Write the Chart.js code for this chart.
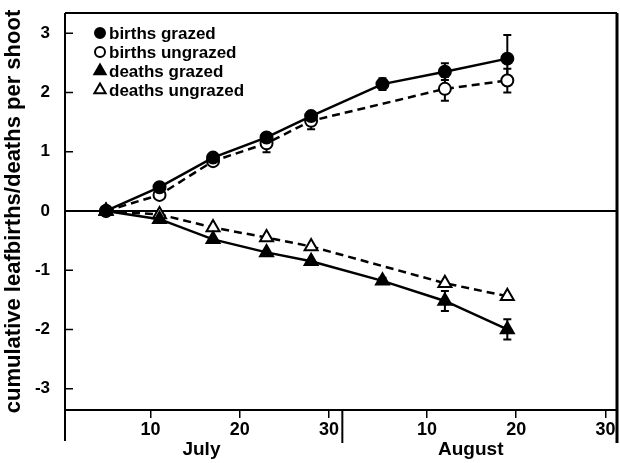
<!DOCTYPE html>
<html>
<head>
<meta charset="utf-8">
<script src="https://cdn.jsdelivr.net/npm/chart.js@4.4.1/dist/chart.umd.min.js"></script>
<style>
  html, body { margin: 0; padding: 0; background: #fff; }
</style>
</head>
<body>
<canvas id="chart" width="620" height="463"></canvas>
<script>
// day number counted from 1 July (1 Aug = day 32)
const days = [5, 11, 17, 23, 28, 36, 43, 50];

const birthsGrazed   = [0, 0.40, 0.90, 1.24, 1.60, 2.14, 2.35, 2.57];
const birthsUngrazed = [0, 0.27, 0.84, 1.14, 1.52, null, 2.06, 2.20];
const deathsGrazed   = [0, -0.14, -0.48, -0.70, -0.85, -1.18, -1.52, -2.00];
const deathsUngrazed = [0, -0.06, -0.28, -0.45, -0.60, null, -1.22, -1.44];

const birthsGrazedErr   = [0, 0, 0, 0, 0.05, 0.10, 0.14, 0.40];
const birthsUngrazedErr = [0, 0, 0, 0.15, 0.14, null, 0.20, 0.20];
const deathsGrazedErr   = [0, 0, 0, 0, 0, 0.05, 0.17, 0.17];
const deathsUngrazedErr = [0, 0, 0, 0, 0, null, 0, 0];

const xTickDays   = [10, 20, 30, 41, 51, 61];
const xTickLabels = ["10", "20", "30", "10", "20", "30"];
const yTicks      = [-3, -2, -1, 0, 1, 2, 3];
const months      = ["July", "August"];
const monthCenters = [15.7, 45.9];
const monthBreak  = 31.5;

const seriesNames = ["births grazed", "births ungrazed", "deaths grazed", "deaths ungrazed"];
const errors = [birthsGrazedErr, birthsUngrazedErr, deathsGrazedErr, deathsUngrazedErr];

const FONT = "'Liberation Sans', Arial, sans-serif";

const toPoints = arr => days.map((d, i) => ({ x: d, y: arr[i] }));

function marker(ctx, style, filled, px, py, r) {
  ctx.beginPath();
  if (style === "circle") {
    ctx.arc(px, py, r, 0, Math.PI * 2);
  } else {
    const s = r * Math.sqrt(3) / 2;
    ctx.moveTo(px, py - r);
    ctx.lineTo(px + s, py + r / 2);
    ctx.lineTo(px - s, py + r / 2);
    ctx.closePath();
  }
  ctx.fillStyle = filled ? "#000" : "#fff";
  ctx.fill();
  ctx.lineWidth = 2;
  ctx.strokeStyle = "#000";
  ctx.stroke();
}

const extras = {
  id: "extras",
  beforeDatasetsDraw(chart) {
    const { ctx, scales: { x, y } } = chart;
    ctx.save();
    ctx.strokeStyle = "#000";
    ctx.lineWidth = 2;
    chart.data.datasets.forEach((ds, i) => {
      ds.data.forEach((p, j) => {
        const e = errors[i][j];
        if (p.y == null || !e) return;
        const px = x.getPixelForValue(p.x);
        const top = y.getPixelForValue(p.y + e);
        const bot = y.getPixelForValue(p.y - e);
        ctx.beginPath();
        ctx.moveTo(px, top); ctx.lineTo(px, bot);
        ctx.moveTo(px - 4, top); ctx.lineTo(px + 4, top);
        ctx.moveTo(px - 4, bot); ctx.lineTo(px + 4, bot);
        ctx.stroke();
      });
    });
    ctx.restore();
  },
  afterDraw(chart) {
    const { ctx, chartArea: a, scales: { x, y } } = chart;
    ctx.save();
    ctx.strokeStyle = "#000";
    ctx.lineCap = "butt";

    // frame
    ctx.lineWidth = 2;
    ctx.beginPath();
    ctx.moveTo(a.left, a.top); ctx.lineTo(a.right, a.top);
    ctx.moveTo(a.left, a.bottom); ctx.lineTo(a.right, a.bottom);
    ctx.moveTo(a.left, a.top); ctx.lineTo(a.left, a.bottom + 31);
    ctx.stroke();
    ctx.lineWidth = 3;
    ctx.beginPath();
    ctx.moveTo(a.right, a.top); ctx.lineTo(a.right, a.bottom + 33);
    ctx.stroke();

    // month separator
    const mx = x.getPixelForValue(monthBreak);
    ctx.lineWidth = 2;
    ctx.beginPath();
    ctx.moveTo(mx, a.bottom); ctx.lineTo(mx, a.bottom + 33);
    ctx.stroke();

    // inward y ticks
    ctx.lineWidth = 1.5;
    ctx.beginPath();
    yTicks.forEach(v => {
      const py = y.getPixelForValue(v);
      ctx.moveTo(a.left, py); ctx.lineTo(a.left + 8, py);
    });
    ctx.stroke();

    // month labels
    ctx.fillStyle = "#000";
    ctx.font = "bold 19px " + FONT;
    ctx.textAlign = "center";
    ctx.textBaseline = "middle";
    months.forEach((m, i) => {
      ctx.fillText(m, x.getPixelForValue(monthCenters[i]), a.bottom + 40);
    });

    // legend
    ctx.font = "bold 17px " + FONT;
    ctx.textAlign = "left";
    chart.data.datasets.forEach((ds, i) => {
      const ly = a.top + 20 + i * 19;
      const lx = a.left + 35;
      marker(ctx, ds.pointStyle, ds.pointBackgroundColor === "#000", lx, ly, ds.pointStyle === "circle" ? 5 : 6.5);
      ctx.fillStyle = "#000";
      ctx.fillText(seriesNames[i], lx + 9, ly + 1);
    });
    ctx.restore();
  }
};

const makeSet = (i, arr, dashed, filled, style) => ({
  label: seriesNames[i],
  data: toPoints(arr),
  borderColor: "#000",
  borderWidth: 2.5,
  borderDash: dashed ? [8, 5] : [],
  pointStyle: style,
  pointRadius: style === "circle" ? 6 : 7.5,
  pointBorderWidth: 2,
  pointBorderColor: "#000",
  pointBackgroundColor: filled ? "#000" : "#fff",
  spanGaps: true,
  tension: 0
});

new Chart(document.getElementById("chart"), {
  type: "line",
  data: {
    datasets: [
      makeSet(0, birthsGrazed, false, true, "circle"),
      makeSet(1, birthsUngrazed, true, false, "circle"),
      makeSet(2, deathsGrazed, false, true, "triangle"),
      makeSet(3, deathsUngrazed, true, false, "triangle")
    ]
  },
  options: {
    responsive: false,
    animation: false,
    layout: { autoPadding: false, padding: { left: 0, top: 13, right: 3, bottom: 0 } },
    plugins: { legend: { display: false }, tooltip: { enabled: false } },
    scales: {
      x: {
        type: "linear",
        min: 0.4,
        max: 62.3,
        afterBuildTicks: s => { s.ticks = xTickDays.map(v => ({ value: v })); },
        afterFit: s => { s.height = 53; s.paddingLeft = 0; s.paddingRight = 0; },
        border: { display: false },
        grid: { drawOnChartArea: false, drawTicks: true, tickLength: 8, color: "#000", lineWidth: 1.5 },
        ticks: {
          color: "#000",
          padding: 1,
          maxRotation: 0,
          autoSkip: false,
          font: { family: FONT, size: 18, weight: "bold" },
          callback: v => xTickLabels[xTickDays.indexOf(v)]
        }
      },
      y: {
        min: -3.36,
        max: 3.34,
        afterBuildTicks: s => { s.ticks = yTicks.map(v => ({ value: v })); },
        afterFit: s => { s.width = 65; s.paddingTop = 0; s.paddingBottom = 0; },
        border: { display: false },
        grid: {
          drawTicks: false,
          color: c => (c.tick && c.tick.value === 0 ? "#000" : "rgba(0,0,0,0)"),
          lineWidth: 2
        },
        ticks: {
          color: "#000",
          padding: 15,
          font: { family: FONT, size: 17, weight: "bold" },
          callback: v => String(v)
        },
        title: {
          display: true,
          text: "cumulative leafbirths/deaths per shoot",
          color: "#000",
          padding: { top: 1, bottom: 0 },
          font: { family: FONT, size: 22, weight: "bold" }
        }
      }
    }
  },
  plugins: [extras]
});
</script>
</body>
</html>
